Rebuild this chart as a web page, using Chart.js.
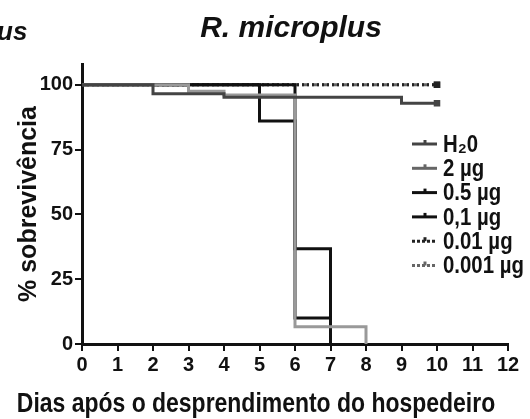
<!DOCTYPE html>
<html>
<head>
<meta charset="utf-8">
<script src="https://cdn.jsdelivr.net/npm/chart.js@4"></script>
<style>
	html, body { margin: 0; padding: 0; background: #fff; }
	#myChart { display: block; }
</style>
</head>
<body>
<canvas id="myChart" width="530" height="419"></canvas>
<script>
// Kaplan-Meier steps (day, % survival)
var xTicks = [0, 1, 2, 3, 4, 5, 6, 7, 8, 9, 10, 11, 12];
var yTicks = [0, 25, 50, 75, 100];

var seriesNames = ['H\u20820', '2 \u00b5g', '0.5 \u00b5g', '0,1 \u00b5g', '0.01 \u00b5g', '0.001 \u00b5g'];

var h2oDays = [0, 2, 4, 9, 10];
var h2oSurv = [100, 96.5, 95.2, 92.9, 92.9];

var dose2Days = [0, 3, 4, 6, 8];
var dose2Surv = [100, 97.5, 96, 6.7, 0];

var dose05Days = [0, 5, 6, 7];
var dose05Surv = [100, 86, 10, 0];

var dose01Days = [0, 6, 7];
var dose01Surv = [100, 36.7, 0];

var dose001Days = [0, 10];
var dose001Surv = [100, 100];

var dose0001Days = [0, 10];
var dose0001Surv = [100, 100];

var wide = '"Liberation Sans", Arial, sans-serif';

function toPoints(days, surv) {
	return days.map(function(d, i) { return { x: d, y: surv[i] }; });
}

// little censor mark only on curves that reach day 10
function endMarks(days) {
	return days.map(function(d, i) { return (i == days.length - 1 && d == 10) ? 2.5 : 0; });
}

var lineColors = ['#444', '#999', '#111', '#111', '#222', '#666'];
var lineDash = [[], [], [], [], [2, 3], [7, 3]];
var allDays = [h2oDays, dose2Days, dose05Days, dose01Days, dose001Days, dose0001Days];
var allSurv = [h2oSurv, dose2Surv, dose05Surv, dose01Surv, dose001Surv, dose0001Surv];

var datasets = [];
for (var i = 0; i < seriesNames.length; i++) {
	datasets.push({
		label: seriesNames[i],
		data: toPoints(allDays[i], allSurv[i]),
		stepped: true,
		borderColor: lineColors[i],
		backgroundColor: lineColors[i],
		borderWidth: 3,
		borderDash: lineDash[i],
		pointRadius: endMarks(allDays[i]),
		pointStyle: 'rect',
		fill: false
	});
}

// draws text squeezed sideways, like the narrow font of the figure
function narrowText(ctx, text, x, y, squeeze) {
	ctx.save();
	ctx.translate(x, y);
	ctx.scale(squeeze, 1);
	ctx.fillText(text, 0, 0);
	ctx.restore();
}

// texts and legend drawn straight on the canvas
var extrasPlugin = {
	id: 'extras',
	afterDraw: function(chart) {
		var ctx = chart.ctx;
		ctx.save();
		ctx.fillStyle = '#111';
		ctx.textBaseline = 'middle';

		ctx.font = 'italic bold 30px ' + wide;
		ctx.textAlign = 'center';
		ctx.fillText('R. microplus', 291, 29);
		ctx.textAlign = 'left';
		ctx.font = 'italic bold 26px ' + wide;
		ctx.fillText('us', -3, 33);

		ctx.font = 'bold 28px ' + wide;
		ctx.textAlign = 'center';
		narrowText(ctx, 'Dias ap\u00f3s o desprendimento do hospedeiro', 256, 404, 0.82);

		// legend
		ctx.font = 'bold 24px ' + wide;
		ctx.textAlign = 'left';
		for (var k = 0; k < seriesNames.length; k++) {
			var y = 144 + k * 24.3;
			ctx.strokeStyle = lineColors[k] == '#999' ? '#666' : lineColors[k];
			ctx.lineWidth = 3;
			ctx.setLineDash(lineDash[k].length ? [3, 2] : []);
			ctx.beginPath();
			ctx.moveTo(412, y);
			ctx.lineTo(437, y);
			ctx.stroke();
			ctx.setLineDash([]);
			ctx.beginPath();
			ctx.moveTo(425, y);
			ctx.lineTo(425, y - 4);
			ctx.stroke();
			ctx.fillStyle = '#111';
			narrowText(ctx, seriesNames[k], 443, y + 1, 0.85);
		}
		ctx.restore();
	}
};

var ctx = document.getElementById('myChart');
var myChart = new Chart(ctx, {
	type: 'line',
	data: { datasets: datasets },
	options: {
		responsive: false,
		animation: false,
		layout: { padding: { top: 64, right: 22, left: 0, bottom: 0 } },
		plugins: {
			legend: { display: false },
			tooltip: { enabled: false }
		},
		scales: {
			x: {
				type: 'linear',
				min: 0,
				max: 12,
				afterBuildTicks: function(scale) {
					scale.ticks = xTicks.map(function(v) { return { value: v }; });
				},
				afterFit: function(scale) { scale.height = 75; },
				grid: { drawOnChartArea: false, drawTicks: true, tickLength: 7, color: '#111', lineWidth: 2 },
				border: { color: '#111', width: 3 },
				ticks: { color: '#111', padding: 2, maxRotation: 0, font: { family: wide, size: 20, weight: 'bold' } }
			},
			y: {
				min: 0,
				max: 108,
				afterBuildTicks: function(scale) {
					scale.ticks = yTicks.map(function(v) { return { value: v }; });
				},
				afterFit: function(scale) { scale.width = 82; },
				grid: { drawOnChartArea: false, drawTicks: true, tickLength: 7, color: '#111', lineWidth: 2 },
				border: { color: '#111', width: 3 },
				ticks: { color: '#111', padding: 2, font: { family: wide, size: 20, weight: 'bold' } },
				title: {
					display: true,
					text: '% sobreviv\u00eancia',
					color: '#111',
					padding: { top: 14, bottom: 0 },
					font: { family: wide, size: 25, weight: 'bold' }
				}
			}
		}
	},
	plugins: [extrasPlugin]
});
</script>
</body>
</html>
